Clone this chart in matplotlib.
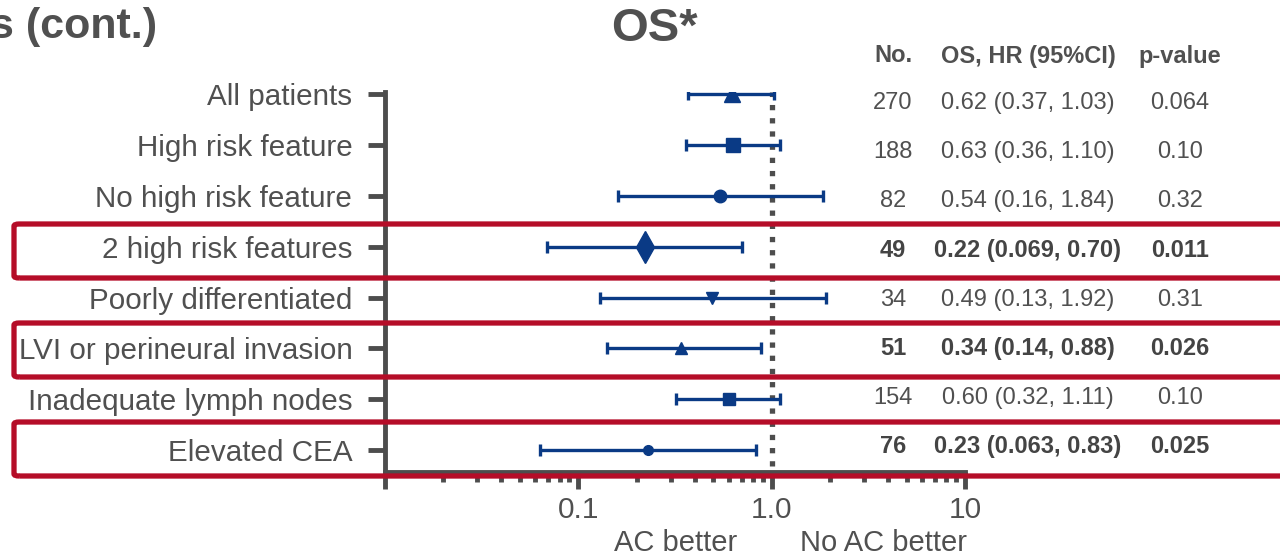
import matplotlib
matplotlib.use("Agg")
import matplotlib.pyplot as plt
from matplotlib.patches import FancyBboxPatch
from matplotlib.ticker import LogLocator, FixedLocator, NullFormatter

plt.rcParams['font.family'] = ['Liberation Sans', 'DejaVu Sans']

# data
subgroups = ["All patients", "High risk feature", "No high risk feature",
             "2 high risk features", "Poorly differentiated",
             "LVI or perineural invasion", "Inadequate lymph nodes", "Elevated CEA"]
n_pts = [270, 188, 82, 49, 34, 51, 154, 76]
hr = [0.62, 0.63, 0.54, 0.22, 0.49, 0.34, 0.60, 0.23]
ci_lo = [0.37, 0.36, 0.16, 0.069, 0.13, 0.14, 0.32, 0.063]
ci_hi = [1.03, 1.10, 1.84, 0.70, 1.92, 0.88, 1.11, 0.83]
hr_text = ["0.62 (0.37, 1.03)", "0.63 (0.36, 1.10)", "0.54 (0.16, 1.84)",
           "0.22 (0.069, 0.70)", "0.49 (0.13, 1.92)", "0.34 (0.14, 0.88)",
           "0.60 (0.32, 1.11)", "0.23 (0.063, 0.83)"]
p_text = ["0.064", "0.10", "0.32", "0.011", "0.31", "0.026", "0.10", "0.025"]
highlight = [False, False, False, True, False, True, False, True]

markers = ['^', 's', 'o', 'd', 'v', '^', 's', 'o']
msizes = [12, 9.5, 9, 16, 9, 9, 8, 7]

NAVY = '#0a3a85'
GREY = '#4d4d4d'
TXT = '#505050'
RED = '#b50d28'
W, H = 1280, 555

fig = plt.figure(figsize=(12.8, 5.55), dpi=100)
ax = fig.add_axes([385 / W, 1 - 472 / H, 580 / W, 380 / H])

rows = list(range(len(subgroups)))

# reference line at HR = 1
ax.axvline(1.0, color=GREY, lw=3.8, ls=(0, (1, 1.5)), ymin=0.015, ymax=1, zorder=1)

for i in rows:
    ax.errorbar(hr[i], i, xerr=[[hr[i] - ci_lo[i]], [ci_hi[i] - hr[i]]],
                fmt=markers[i], ms=msizes[i], color=NAVY, ecolor=NAVY,
                elinewidth=2.4, capsize=4.5, capthick=2.4, zorder=3)

ax.set_xscale('log')
ax.set_xlim(0.01, 10)
ax.set_ylim(7.43, -0.04)

ax.xaxis.set_major_locator(FixedLocator([0.01, 0.1, 1, 10]))
ax.set_xticklabels(["", "0.1", "1.0", "10"])
ax.xaxis.set_minor_locator(LogLocator(base=10, subs=[2, 3, 4, 5, 6, 7, 8, 9]))
ax.xaxis.set_minor_formatter(NullFormatter())
ax.tick_params(axis='x', which='major', length=12.5, width=3.5, color=GREY,
               labelsize=21.5, labelcolor=TXT, pad=5)
ax.tick_params(axis='x', which='minor', length=7.5, width=3.5, color=GREY)

ax.set_yticks(rows)
ax.set_yticklabels(subgroups)
ax.tick_params(axis='y', length=12, width=3.5, color=GREY, labelsize=21.3,
               labelcolor=TXT, pad=11.5)

for s in ['top', 'right']:
    ax.spines[s].set_visible(False)
for s in ['left', 'bottom']:
    ax.spines[s].set_color(GREY)
    ax.spines[s].set_linewidth(3.5)

# axis direction labels
fig.text(676 / W, 1 - 543 / H, "AC better", ha='center', va='center',
         fontsize=21, color=TXT)
fig.text(883 / W, 1 - 543 / H, "No AC better", ha='center', va='center',
         fontsize=21, color=TXT)

# table columns
col_x = [893 / W, 1028 / W, 1180 / W]
headers = ["No.", "OS, HR (95%CI)", "p-value"]
for x, h in zip(col_x, headers):
    fig.text(x, 1 - 56 / H, h, ha='center', va='center', fontsize=17,
             fontweight='bold', color=TXT)

row_top, row_step = 103, 49.14
for i in rows:
    w = 'bold' if highlight[i] else 'normal'
    c = '#444444' if highlight[i] else TXT
    y = 1 - (row_top + i * row_step) / H
    for x, t in zip(col_x, [str(n_pts[i]), hr_text[i], p_text[i]]):
        fig.text(x, y, t, ha='center', va='center', fontsize=17,
                 fontweight=w, color=c)

# red highlight boxes (figure pixel coordinates)
box_top, box_step, box_h = 224, 49.5, 54
for i in rows:
    if highlight[i]:
        top = box_top + (i - 3) * box_step
        box = FancyBboxPatch((14 / W, 1 - (top + box_h) / H), 1.2, box_h / H,
                             boxstyle="round,pad=0,rounding_size=0.004",
                             transform=fig.transFigure, fill=False, ec=RED, lw=3.8,
                             clip_on=False, zorder=5)
        fig.add_artist(box)

# titles
fig.text(157 / W, 1 - 27 / H, "s (cont.)", ha='right', va='center',
         fontsize=31, fontweight='bold', color=TXT)
fig.text(654 / W, 1 - 29 / H, "OS*", ha='center', va='center',
         fontsize=34, fontweight='bold', color=TXT)

fig.savefig("out.png", dpi=100)
